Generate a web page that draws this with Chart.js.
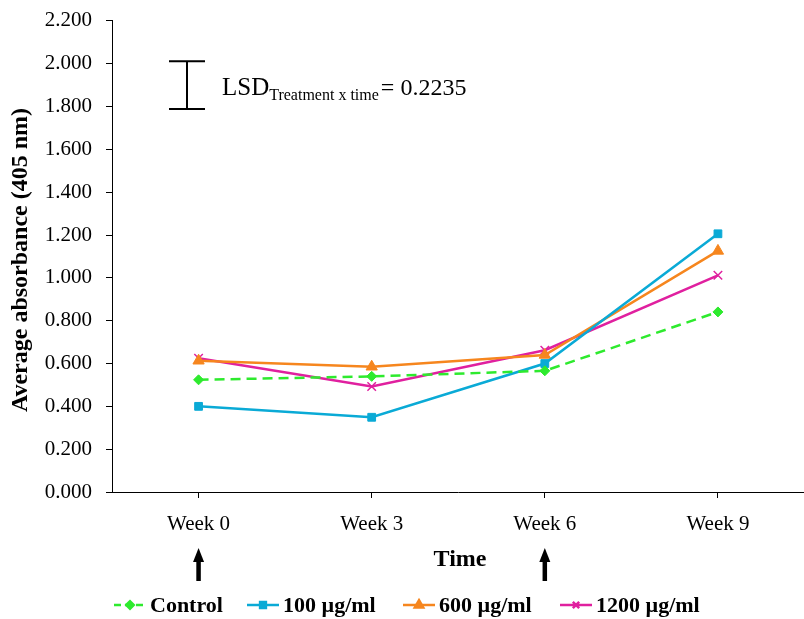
<!DOCTYPE html>
<html><head><meta charset="utf-8">
<script src="https://cdn.jsdelivr.net/npm/chart.js@4.4.1/dist/chart.umd.min.js"></script>
<style>html,body{margin:0;padding:0;background:#fff;overflow:hidden}canvas{display:block}</style>
</head><body><canvas id="c" width="812" height="619"></canvas>
<script>
const categories = ['Week 0', 'Week 3', 'Week 6', 'Week 9'];
const yTicks = [0, 0.2, 0.4, 0.6, 0.8, 1.0, 1.2, 1.4, 1.6, 1.8, 2.0, 2.2];
const control = [0.524, 0.540, 0.566, 0.841];
const ug100 = [0.400, 0.349, 0.600, 1.206];
const ug600 = [0.613, 0.585, 0.640, 1.126];
const ug1200 = [0.625, 0.493, 0.662, 1.012];
const seriesNames = ['Control', '100 \u00b5g/ml', '600 \u00b5g/ml', '1200 \u00b5g/ml'];
const lsdValue = 0.2235;
const lsdCenter = 1.9;
const arrowWeeks = ['Week 0', 'Week 6'];

const colors = ['#2EEA2E', '#0AAAD6', '#F6861E', '#E0209F'];
const styles = ['rectRot', 'rect', 'triangle', 'crossRot'];
const radii = [5, 5.5, 6.5, 6];
const serif = '"Liberation Serif", "Times New Roman", serif';

const extras = {
  id: 'extras',
  afterDraw(chart) {
    const ctx = chart.ctx, xs = chart.scales.x, ys = chart.scales.y;
    ctx.save();
    // LSD bar
    const top = ys.getPixelForValue(lsdCenter + lsdValue / 2);
    const bot = ys.getPixelForValue(lsdCenter - lsdValue / 2);
    const bx = 187;
    ctx.strokeStyle = '#000'; ctx.lineWidth = 2;
    ctx.beginPath();
    ctx.moveTo(bx, top); ctx.lineTo(bx, bot);
    ctx.moveTo(bx - 18, top); ctx.lineTo(bx + 18, top);
    ctx.moveTo(bx - 18, bot); ctx.lineTo(bx + 18, bot);
    ctx.stroke();
    // LSD text
    ctx.fillStyle = '#000'; ctx.textBaseline = 'alphabetic'; ctx.textAlign = 'left';
    let tx = 222;
    ctx.font = '25px ' + serif;
    ctx.fillText('LSD', tx, 95); tx += ctx.measureText('LSD').width;
    ctx.font = '16px ' + serif;
    ctx.fillText('Treatment x time', tx, 100); tx += ctx.measureText('Treatment x time').width + 2;
    ctx.font = '24px ' + serif;
    ctx.fillText('= 0.2235', tx, 95);
    // Arrows
    arrowWeeks.forEach(w => {
      const x = xs.getPixelForValue(categories.indexOf(w));
      ctx.fillStyle = '#000';
      ctx.fillRect(x - 2.25, 560, 4.5, 21);
      ctx.beginPath();
      ctx.moveTo(x, 548); ctx.lineTo(x - 5.5, 562); ctx.lineTo(x + 5.5, 562); ctx.closePath(); ctx.fill();
    });
    // Axis titles
    ctx.fillStyle = '#000';
    ctx.font = 'bold 24px ' + serif;
    ctx.textAlign = 'center'; ctx.textBaseline = 'middle';
    ctx.fillText('Time', 460, 560);
    ctx.save();
    ctx.translate(21, 260); ctx.rotate(-Math.PI / 2);
    ctx.fillText('Average absorbance (405 nm)', 0, 0);
    ctx.restore();
    // Legend
    ctx.font = 'bold 22px ' + serif;
    ctx.textAlign = 'left';
    const ly = 605;
    const starts = [114, 247, 403, 560];
    chart.data.datasets.forEach((ds, i) => {
      const x0 = starts[i];
      ctx.strokeStyle = ds.borderColor; ctx.lineWidth = 2.5;
      ctx.setLineDash(ds.borderDash ? [7, 4] : []);
      ctx.beginPath(); ctx.moveTo(x0, ly); ctx.lineTo(x0 + 32, ly); ctx.stroke();
      ctx.setLineDash([]);
      ctx.fillStyle = ds.backgroundColor; ctx.strokeStyle = ds.borderColor;
      Chart.helpers.drawPoint(ctx, {pointStyle: ds.pointStyle, radius: ds.pointRadius * 0.75, borderWidth: ds.pointBorderWidth, rotation: 0}, x0 + 16, ly);
      ctx.fillStyle = '#000';
      ctx.fillText(ds.label, x0 + 36, ly + 1);
    });
    ctx.restore();
  }
};

const sets = [control, ug100, ug600, ug1200].map((d, i) => ({
  label: seriesNames[i],
  data: d,
  borderColor: colors[i],
  backgroundColor: colors[i],
  pointBackgroundColor: colors[i],
  pointBorderColor: colors[i],
  borderWidth: 2.5,
  borderDash: i === 0 ? [10, 6] : undefined,
  pointStyle: styles[i],
  pointRadius: radii[i],
  pointBorderWidth: i === 3 ? 1.5 : 1,
  tension: 0,
  fill: false
}));

new Chart(document.getElementById('c'), {
  type: 'line',
  data: { labels: categories, datasets: sets },
  options: {
    responsive: false, animation: false,
    layout: { padding: { top: 10, right: 4, left: 0, bottom: 0 } },
    plugins: { legend: { display: false }, tooltip: { enabled: false } },
    scales: {
      x: {
        offset: true,
        grid: { display: true, drawOnChartArea: false, drawTicks: true, tickLength: 6, color: '#000', offset: false },
        border: { color: '#000', width: 1 },
        ticks: { color: '#000', font: { family: serif, size: 21 }, padding: 14, maxRotation: 0 },
        afterFit(s) { s.height = 127; }
      },
      y: {
        min: 0, max: 2.2,
        afterBuildTicks(s) { s.ticks = yTicks.map(v => ({ value: v })); },
        grid: { drawOnChartArea: false, drawTicks: true, tickLength: 6, color: '#000' },
        border: { color: '#000', width: 1 },
        ticks: { color: '#000', font: { family: serif, size: 21, lineHeight: 0.66 }, padding: 14, callback: v => Number(v).toFixed(3) },
        afterFit(s) { s.width = 112; }
      }
    }
  },
  plugins: [extras]
});
</script></body></html>
